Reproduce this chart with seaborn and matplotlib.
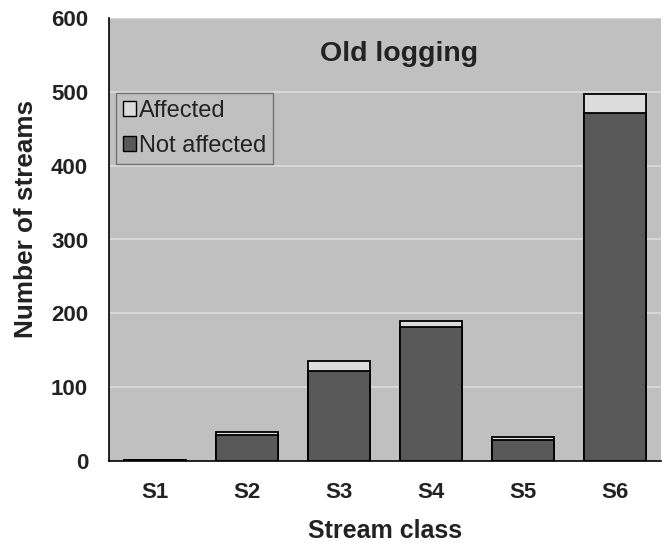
import matplotlib
matplotlib.use("Agg")
import matplotlib.pyplot as plt
import seaborn as sns
import pandas as pd
from matplotlib.patches import Patch

categories = ["S1", "S2", "S3", "S4", "S5", "S6"]
not_affected = [1, 35, 122, 182, 28, 471]
affected = [1, 4, 13, 8, 5, 26]

totals = [a + b for a, b in zip(not_affected, affected)]
df = pd.DataFrame({"cls": categories, "not_affected": not_affected, "total": totals})

sns.set_style("ticks")
plt.rcParams["font.family"] = ["Liberation Sans", "DejaVu Sans"]
TEXT = "#222222"

fig = plt.figure(figsize=(6.65, 5.48), dpi=100)
ax = fig.add_axes([109 / 665, 1 - 461 / 548, 552 / 665, 443 / 548])
ax.set_facecolor("#c0c0c0")

# stacked bars: full total in light grey, not-affected part drawn over it
sns.barplot(data=df, x="cls", y="total", color="#dcdcdc", edgecolor="black",
            linewidth=1.3, width=0.67, saturation=1, ax=ax, zorder=3)
sns.barplot(data=df, x="cls", y="not_affected", color="#595959", edgecolor="black",
            linewidth=1.3, width=0.67, saturation=1, ax=ax, zorder=3)

ax.set_ylim(0, 600)
ax.set_xlim(-0.5, 5.5)
ax.set_yticks(range(0, 601, 100))
ax.yaxis.grid(True, color="#dcdcdc", linewidth=1.2, zorder=0)
ax.set_axisbelow(True)
for side in ["top", "right"]:
    ax.spines[side].set_visible(False)
for side in ["left", "bottom"]:
    ax.spines[side].set_color("black")
    ax.spines[side].set_linewidth(1.2)
ax.tick_params(axis="y", length=0, labelsize=16, pad=15, colors=TEXT)
ax.tick_params(axis="x", length=0, labelsize=16, pad=15, colors=TEXT)
for lbl in ax.get_xticklabels() + ax.get_yticklabels():
    lbl.set_fontweight("bold")

ax.set_xlabel("Stream class", fontsize=18, fontweight="bold", labelpad=12, color=TEXT)
ax.set_ylabel("Number of streams", fontsize=18.8, fontweight="bold", color=TEXT)
ax.yaxis.set_label_coords(-0.128, 0.547)
ax.text(0.526, 0.918, "Old logging", transform=ax.transAxes, ha="center", va="center",
        fontsize=20.5, fontweight="bold", color=TEXT)

handles = [Patch(facecolor="#dcdcdc", edgecolor="black", label="Affected"),
           Patch(facecolor="#595959", edgecolor="black", label="Not affected")]
leg = ax.legend(handles=handles, loc="upper left", bbox_to_anchor=(0.0127, 0.831),
                frameon=True, fancybox=False, fontsize=17, handlelength=0.55,
                handleheight=0.55, handletextpad=0.13, borderpad=0.3,
                labelspacing=0.55, borderaxespad=0)
for t in leg.get_texts():
    t.set_color(TEXT)
leg.get_frame().set_facecolor("#c0c0c0")
leg.get_frame().set_edgecolor("#606060")
leg.get_frame().set_linewidth(1.0)

fig.savefig("out.png", dpi=100, facecolor="white")
